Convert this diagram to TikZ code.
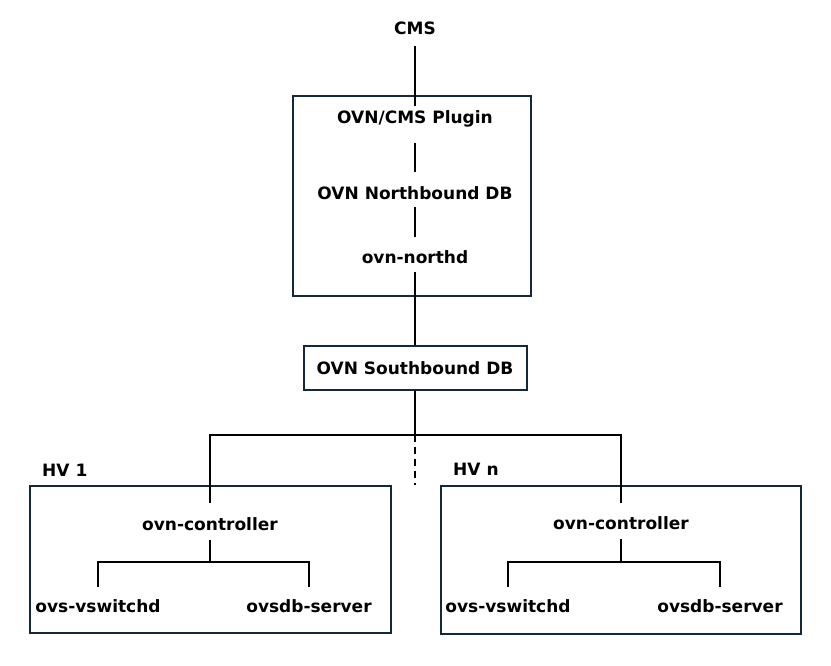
\documentclass[tikz,border=0pt]{standalone}
\usepackage{fontspec}
\setmainfont{DejaVu Sans}
\definecolor{boxline}{HTML}{14283A}
\begin{document}
\begin{tikzpicture}[x=1pt,y=-1pt,
	wire/.style={line width=2pt},
	frame/.style={draw=boxline,line width=2pt,rectangle,inner sep=0pt},
	lbl/.style={font=\fontsize{17}{19}\selectfont\bfseries,inner sep=0pt,text height=12.4pt,text depth=0pt}]
	\useasboundingbox (0,0) rectangle (831,665);
	% boxes
	\node[frame,minimum width=238pt,minimum height=200pt] (nbox) at (412,196) {};
	\node[frame,lbl,minimum width=223pt,minimum height=44pt] (sb) at (415,368) {OVN Southbound DB};
	\node[frame,minimum width=361pt,minimum height=147pt] (hv1) at (210.5,559.5) {};
	\node[frame,minimum width=360pt,minimum height=148pt] (hvn) at (621,559.5) {};
	% labels
	\node[lbl] (cms) at (415,28.5) {CMS};
	\node[lbl] (plugin) at (415,117.5) {OVN/CMS Plugin};
	\node[lbl] (nb) at (415,193) {OVN Northbound DB};
	\node[lbl] (northd) at (415,257) {ovn-northd};
	\node[lbl,anchor=west] (hv1lbl) at (42,470) {HV 1};
	\node[lbl,anchor=west] (hvnlbl) at (453,469) {HV n};
	\node[lbl] (ctl1) at (210,524) {ovn-controller};
	\node[lbl] (vs1) at (98,606) {ovs-vswitchd};
	\node[lbl] (db1) at (309,606) {ovsdb-server};
	\node[lbl] (ctl2) at (621,523) {ovn-controller};
	\node[lbl] (vs2) at (508,606) {ovs-vswitchd};
	\node[lbl] (db2) at (720,606) {ovsdb-server};
	\coordinate (bus) at (415,435);
	\coordinate (gap) at (415,485);
	\coordinate (fork1) at (210,562);
	\coordinate (fork2) at (621,562);
	% north side
	\draw[wire,shorten <=11pt,shorten >=5pt] (cms) -- (plugin);
	\draw[wire,shorten <=19pt,shorten >=15pt] (plugin) -- (nb);
	\draw[wire,shorten <=8pt,shorten >=14pt] (nb) -- (northd);
	\draw[wire,shorten <=9pt] (northd) -- (sb);
	% south side
	\draw[wire] (sb) -- (bus);
	\draw[wire,shorten >=15pt] (bus) -| (ctl1);
	\draw[wire,shorten >=14pt] (bus) -| (ctl2);
	\draw[wire,dash pattern=on 7pt off 5pt] (bus) -- (gap);
	% hypervisors
	\draw[wire,shorten <=10pt] (ctl1) -- (fork1);
	\draw[wire] ([yshift=13pt]vs1.north) |- (fork1) -| ([yshift=13pt]db1.north);
	\draw[wire,shorten <=10pt] (ctl2) -- (fork2);
	\draw[wire] ([yshift=13pt]vs2.north) |- (fork2) -| ([yshift=13pt]db2.north);
\end{tikzpicture}
\end{document}
